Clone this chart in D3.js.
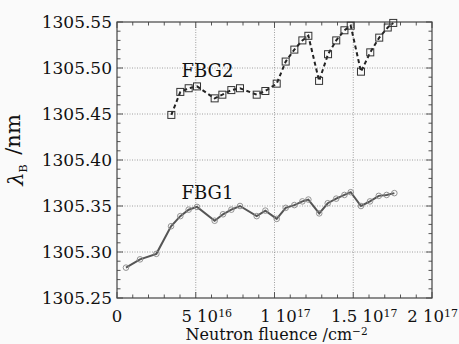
<!DOCTYPE html>
<html>
<head>
<meta charset="utf-8">
<script src="https://cdn.jsdelivr.net/npm/d3@7"></script>
<style>
  body { margin: 0; background: #fafafa; }
  svg { display: block; }
  text { font-family: "DejaVu Serif", "Liberation Serif", serif; fill: #111; }
</style>
</head>
<body>
<div id="chart"></div>
<script>
// data (fluence in units of 1e17 n/cm2, wavelength in nm)
const fluence1 = [0.057, 0.146, 0.250, 0.343, 0.402, 0.455, 0.508, 0.620, 0.673, 0.726, 0.781,
  0.887, 0.942, 1.014, 1.071, 1.126, 1.177, 1.215, 1.284, 1.338, 1.392, 1.444, 1.484,
  1.549, 1.606, 1.662, 1.712, 1.761];
const fbg1 = [1305.283, 1305.292, 1305.298, 1305.328, 1305.339, 1305.346, 1305.349, 1305.334,
  1305.341, 1305.346, 1305.350, 1305.339, 1305.345, 1305.336, 1305.348, 1305.351, 1305.355,
  1305.357, 1305.342, 1305.353, 1305.358, 1305.362, 1305.365, 1305.350, 1305.355, 1305.361,
  1305.362, 1305.364];

const fluence2 = [0.345, 0.402, 0.455, 0.508, 0.620, 0.669, 0.726, 0.781, 0.887, 0.942, 1.014,
  1.071, 1.126, 1.177, 1.215, 1.283, 1.340, 1.392, 1.444, 1.484, 1.549, 1.608, 1.665,
  1.719, 1.754];
const fbg2 = [1305.449, 1305.474, 1305.478, 1305.480, 1305.467, 1305.471, 1305.476, 1305.478,
  1305.471, 1305.475, 1305.483, 1305.507, 1305.520, 1305.530, 1305.535, 1305.486, 1305.515,
  1305.530, 1305.541, 1305.546, 1305.496, 1305.517, 1305.533, 1305.544, 1305.549];

const xTicks = [0, 0.5, 1, 1.5, 2];
const xTickMant = ["0", "5", "1", "1.5", "2"];
const xTickExp = ["", "16", "17", "17", "17"];
const yTicks = [1305.25, 1305.30, 1305.35, 1305.40, 1305.45, 1305.50, 1305.55];

// dimensions
const margin = {top: 22, right: 27, bottom: 46, left: 117},
  width = 459 - margin.left - margin.right,
  height = 344 - margin.top - margin.bottom;

const svg = d3.select("#chart")
  .append("svg")
  .attr("width", 459)
  .attr("height", 344)
  .append("g")
  .attr("transform", `translate(${margin.left}, ${margin.top})`);

const x = d3.scaleLinear().domain([0, 2]).range([0, width]);
const y = d3.scaleLinear().domain([1305.25, 1305.55]).range([height, 0]);

// gridlines (dotted)
svg.append("g")
  .selectAll("line")
  .data(xTicks.slice(1, -1))
  .join("line")
  .attr("x1", d => x(d)).attr("x2", d => x(d))
  .attr("y1", 0).attr("y2", height)
  .attr("stroke", "#888").attr("stroke-width", 0.8).attr("stroke-dasharray", "1,1.5");
svg.append("g")
  .selectAll("line")
  .data(yTicks.slice(1, -1))
  .join("line")
  .attr("x1", 0).attr("x2", width)
  .attr("y1", d => y(d)).attr("y2", d => y(d))
  .attr("stroke", "#888").attr("stroke-width", 0.8).attr("stroke-dasharray", "1,1.5");

// inward ticks on all four sides
const xMinor = d3.range(0, 2.0001, 0.1);
const yMinor = d3.range(1305.25, 1305.5501, 0.01);
const tickCol = "#555";
function isMajorX(d) { return Math.abs(d * 2 - Math.round(d * 2)) < 1e-6; }
function isMajorY(d) { return Math.abs(d * 20 - Math.round(d * 20)) < 1e-4; }

svg.append("g").selectAll("line").data(xMinor).join("line")
  .attr("x1", d => x(d)).attr("x2", d => x(d))
  .attr("y1", height).attr("y2", d => height - (isMajorX(d) ? 6 : 3.5))
  .attr("stroke", tickCol);
svg.append("g").selectAll("line").data(xMinor).join("line")
  .attr("x1", d => x(d)).attr("x2", d => x(d))
  .attr("y1", 0).attr("y2", d => (isMajorX(d) ? 6 : 3.5))
  .attr("stroke", tickCol);
svg.append("g").selectAll("line").data(yMinor).join("line")
  .attr("x1", 0).attr("x2", d => (isMajorY(d) ? 6 : 3.5))
  .attr("y1", d => y(d)).attr("y2", d => y(d))
  .attr("stroke", tickCol);
svg.append("g").selectAll("line").data(yMinor).join("line")
  .attr("x1", width).attr("x2", d => width - (isMajorY(d) ? 6 : 3.5))
  .attr("y1", d => y(d)).attr("y2", d => y(d))
  .attr("stroke", tickCol);

// frame
svg.append("rect")
  .attr("width", width).attr("height", height)
  .attr("fill", "none").attr("stroke", "#444").attr("stroke-width", 1.2);

// y tick labels
svg.append("g").selectAll("text").data(yTicks).join("text")
  .attr("x", -5)
  .attr("y", d => y(d))
  .attr("dy", "0.36em")
  .attr("text-anchor", "end")
  .style("font-size", "17px")
  .text(d => d.toFixed(2));

// x tick labels
const xl = svg.append("g").selectAll("text").data(xTicks).join("text")
  .attr("x", (d, i) => x(d) + (i === 0 ? 0 : 11))
  .attr("y", height + 24)
  .attr("text-anchor", "middle")
  .style("font-size", "16.5px");
xl.append("tspan").text((d, i) => xTickExp[i] ? xTickMant[i] + " 10" : xTickMant[i]);
xl.append("tspan")
  .attr("dy", "-0.45em")
  .style("font-size", "11px")
  .text((d, i) => xTickExp[i]);
// keep the last label inside the picture
xl.each(function() {
  const b = this.getBBox();
  const over = b.x + b.width + margin.left - 458;
  if (over > 0) d3.select(this).attr("x", +d3.select(this).attr("x") - over);
});

// axis titles
const xt = svg.append("text")
  .attr("x", width / 2 + 2)
  .attr("y", height + 42)
  .attr("text-anchor", "middle")
  .style("font-size", "16px");
xt.append("tspan").text("Neutron fluence /cm");
xt.append("tspan").attr("dy", "-0.45em").style("font-size", "10.5px").text("−2");

const yt = svg.append("text")
  .attr("transform", `translate(${-94}, ${height / 2 - 10}) rotate(-90)`)
  .attr("text-anchor", "middle")
  .style("font-size", "21px");
yt.append("tspan").style("font-style", "italic").text("λ");
yt.append("tspan").attr("dy", "0.35em").style("font-size", "11px").text("B");
yt.append("tspan").attr("dy", "-0.35em").attr("dx", "3").text(" /nm");

// FBG1 series: solid gray line with circles
const d1 = fluence1.map((f, i) => [f, fbg1[i]]);
svg.append("path")
  .datum(d1)
  .attr("fill", "none")
  .attr("stroke", "#555")
  .attr("stroke-width", 2)
  .attr("d", d3.line().x(d => x(d[0])).y(d => y(d[1])));
svg.append("g").selectAll("circle").data(d1).join("circle")
  .attr("cx", d => x(d[0])).attr("cy", d => y(d[1]))
  .attr("r", 2.8)
  .attr("fill", "none").attr("stroke", "#888").attr("stroke-width", 0.9);

// FBG2 series: dashed black line with squares
const d2 = fluence2.map((f, i) => [f, fbg2[i]]);
svg.append("path")
  .datum(d2)
  .attr("fill", "none")
  .attr("stroke", "#222")
  .attr("stroke-width", 2)
  .attr("stroke-dasharray", "4,3")
  .attr("d", d3.line().x(d => x(d[0])).y(d => y(d[1])));
svg.append("g").selectAll("rect").data(d2).join("rect")
  .attr("x", d => x(d[0]) - 3.5).attr("y", d => y(d[1]) - 3.5)
  .attr("width", 7).attr("height", 7)
  .attr("fill", "none").attr("stroke", "#333").attr("stroke-width", 1);

// series labels
svg.append("text")
  .attr("x", x(0.41)).attr("y", y(1305.490))
  .style("font-size", "18px")
  .text("FBG2");
svg.append("text")
  .attr("x", x(0.41)).attr("y", y(1305.358))
  .style("font-size", "18px")
  .text("FBG1");
</script>
</body>
</html>
